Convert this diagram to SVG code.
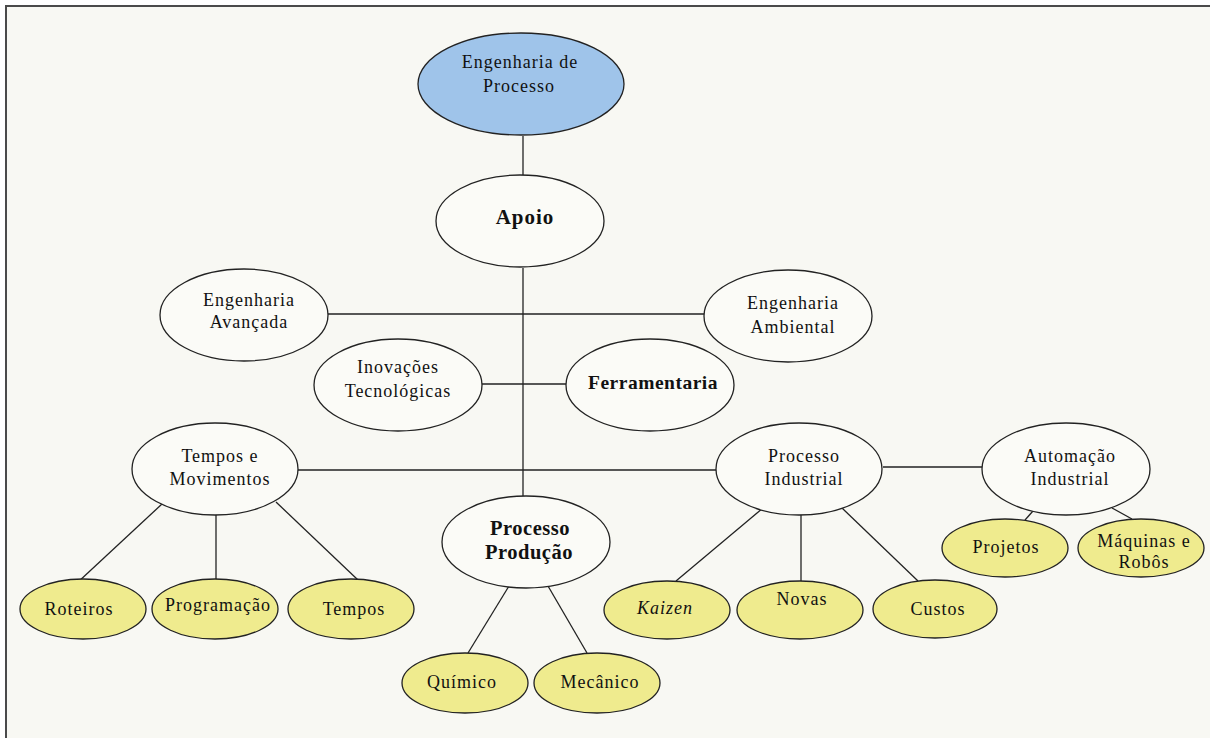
<svg xmlns="http://www.w3.org/2000/svg" width="1210" height="738" viewBox="0 0 1210 738">
  <style>
    .bg { fill: #f8f8f3; }
    .frame { stroke: #4a4a4a; stroke-width: 2; fill: none; }
    .link { stroke: #222; stroke-width: 1.3; fill: none; }
    .node ellipse { stroke: #222; stroke-width: 1.3; }
    .white ellipse { fill: #fbfbf7; }
    .blue ellipse { fill: #9fc4ea; }
    .yellow ellipse { fill: #efeb8e; }
    text { font-family: "Liberation Serif", "Times New Roman", serif; font-size: 18px; letter-spacing: 1px; fill: #111; text-anchor: middle; }
    .b { font-weight: bold; font-size: 19.5px; letter-spacing: 0.5px; }
    .big { font-size: 21px; letter-spacing: 1px; }
    .mid { font-size: 20.5px; }
    .i { font-style: italic; }
  </style>

  <!-- page -->
  <rect x="0" y="0" width="1210" height="738" fill="#ffffff"/>
  <rect class="bg" x="7" y="7" width="1203" height="731"/>
  <path class="frame" d="M6,738 V6 H1210"/>

  <!-- connectors -->
  <g id="connectors">
    <line class="link" x1="523" y1="136" x2="523" y2="175"/>
    <line class="link" x1="523" y1="268" x2="523" y2="496"/>
    <line class="link" x1="328" y1="314" x2="704" y2="314"/>
    <line class="link" x1="482" y1="384" x2="566" y2="384"/>
    <line class="link" x1="298" y1="470" x2="716" y2="470"/>
    <line class="link" x1="883" y1="467" x2="982" y2="467"/>
    <!-- Tempos e Movimentos children -->
    <line class="link" x1="162" y1="504" x2="77" y2="583"/>
    <line class="link" x1="216" y1="514" x2="216" y2="580"/>
    <line class="link" x1="276" y1="502" x2="358" y2="580"/>
    <!-- Processo Produção children -->
    <line class="link" x1="509" y1="586" x2="468" y2="653"/>
    <line class="link" x1="548" y1="586" x2="587" y2="653"/>
    <!-- Processo Industrial children -->
    <line class="link" x1="763" y1="508" x2="676" y2="581"/>
    <line class="link" x1="801" y1="514" x2="801" y2="581"/>
    <line class="link" x1="842" y1="508" x2="918" y2="581"/>
    <!-- Automação Industrial children -->
    <line class="link" x1="1033" y1="511" x2="1025" y2="520"/>
    <line class="link" x1="1112" y1="508" x2="1132" y2="519"/>
  </g>

  <g id="engenharia-processo" class="node blue">
    <ellipse cx="521" cy="84" rx="103" ry="51"/>
    <text x="520" y="68">Engenharia de</text>
    <text x="519" y="92">Processo</text>
  </g>

  <g id="apoio" class="node white">
    <ellipse cx="520" cy="221" rx="84" ry="46"/>
    <text class="b big" x="525" y="224">Apoio</text>
  </g>

  <g id="engenharia-avancada" class="node white">
    <ellipse cx="244" cy="315" rx="84" ry="46"/>
    <text x="249" y="306">Engenharia</text>
    <text x="249" y="328">Avançada</text>
  </g>

  <g id="engenharia-ambiental" class="node white">
    <ellipse cx="788" cy="316" rx="84" ry="46"/>
    <text x="793" y="309">Engenharia</text>
    <text x="793" y="333">Ambiental</text>
  </g>

  <g id="inovacoes" class="node white">
    <ellipse cx="398" cy="385" rx="84" ry="46"/>
    <text x="398" y="373">Inovações</text>
    <text x="398" y="397">Tecnológicas</text>
  </g>

  <g id="ferramentaria" class="node white">
    <ellipse cx="650" cy="385" rx="84" ry="46"/>
    <text class="b" x="653" y="389">Ferramentaria</text>
  </g>

  <g id="tempos-movimentos" class="node white">
    <ellipse cx="215" cy="469" rx="83" ry="46"/>
    <text x="220" y="462">Tempos e</text>
    <text x="220" y="485">Movimentos</text>
  </g>

  <g id="processo-producao" class="node white">
    <ellipse cx="526" cy="542" rx="84" ry="46"/>
    <text class="b mid" x="530" y="535">Processo</text>
    <text class="b mid" x="529" y="559">Produção</text>
  </g>

  <g id="processo-industrial" class="node white">
    <ellipse cx="799" cy="469" rx="83" ry="46"/>
    <text x="804" y="462">Processo</text>
    <text x="804" y="485">Industrial</text>
  </g>

  <g id="automacao-industrial" class="node white">
    <ellipse cx="1066" cy="469" rx="84" ry="46"/>
    <text x="1070" y="462">Automação</text>
    <text x="1070" y="485">Industrial</text>
  </g>

  <g id="roteiros" class="node yellow">
    <ellipse cx="83" cy="609" rx="63" ry="30"/>
    <text x="79" y="615">Roteiros</text>
  </g>

  <g id="programacao" class="node yellow">
    <ellipse cx="215" cy="609" rx="63" ry="30"/>
    <text x="218" y="611">Programação</text>
  </g>

  <g id="tempos" class="node yellow">
    <ellipse cx="351" cy="609" rx="63" ry="30"/>
    <text x="354" y="615">Tempos</text>
  </g>

  <g id="quimico" class="node yellow">
    <ellipse cx="465" cy="683" rx="63" ry="30"/>
    <text x="462" y="688">Químico</text>
  </g>

  <g id="mecanico" class="node yellow">
    <ellipse cx="597" cy="683" rx="63" ry="30"/>
    <text x="600" y="688">Mecânico</text>
  </g>

  <g id="kaizen" class="node yellow">
    <ellipse cx="667" cy="610" rx="63" ry="29"/>
    <text class="i" x="665" y="614">Kaizen</text>
  </g>

  <g id="novas" class="node yellow">
    <ellipse cx="800" cy="610" rx="63" ry="29"/>
    <text x="802" y="605">Novas</text>
  </g>

  <g id="custos" class="node yellow">
    <ellipse cx="935" cy="609" rx="62" ry="29"/>
    <text x="938" y="615">Custos</text>
  </g>

  <g id="projetos" class="node yellow">
    <ellipse cx="1005" cy="548" rx="63" ry="29"/>
    <text x="1006" y="553">Projetos</text>
  </g>

  <g id="maquinas-robos" class="node yellow">
    <ellipse cx="1141" cy="548" rx="63" ry="29"/>
    <text x="1144" y="547">Máquinas e</text>
    <text x="1144" y="568">Robôs</text>
  </g>
</svg>
